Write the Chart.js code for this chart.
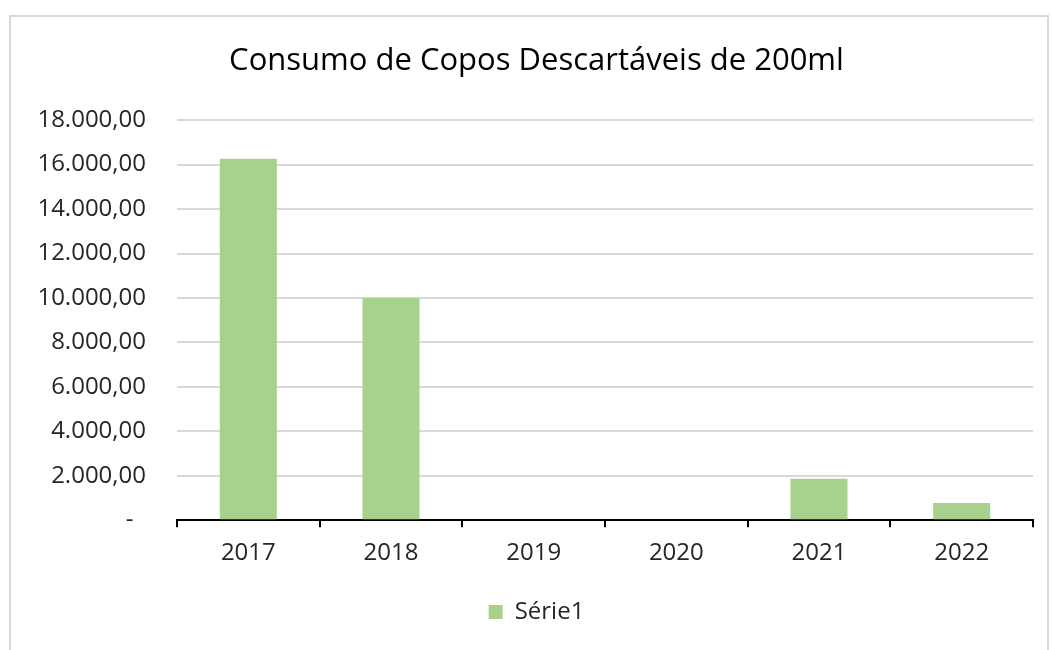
<!DOCTYPE html>
<html><head><meta charset="utf-8">
<script src="https://cdn.jsdelivr.net/npm/chart.js@4.4.0/dist/chart.umd.min.js"></script>
<style>
html,body{margin:0;padding:0;background:#fff;}
#wrap{position:relative;width:1054px;height:650px;}
#frame{position:absolute;left:9px;top:15px;width:1040px;height:640px;border:2px solid #d9d9d9;box-sizing:border-box;}
canvas{position:absolute;left:0;top:0;}
</style></head>
<body><div id="wrap"><div id="frame"></div><canvas id="c" width="1054" height="650"></canvas></div>
<script>
const categories = ["2017","2018","2019","2020","2021","2022"];
const serie1 = [16270, 10000, 0, 0, 1870, 770];
const yTicks = [0,2000,4000,6000,8000,10000,12000,14000,16000,18000];
const FONT = "'Open Sans', 'Liberation Sans', sans-serif";
function fmt(v){
  if(v===0) return "-\u00a0\u00a0";
  const s = Math.round(v).toString().replace(/\B(?=(\d{3})+(?!\d))/g,".");
  return s + ",00";
}
new Chart(document.getElementById('c'),{
  type:'bar',
  data:{labels:categories,datasets:[{label:'Série1',data:serie1,backgroundColor:'#a9d18e',borderWidth:0,barPercentage:0.4,categoryPercentage:1}]},
  options:{
    responsive:false,animation:false,
    layout:{padding:{left:40,right:21,top:43,bottom:16}},
    plugins:{
      title:{display:true,text:'Consumo de Copos Descartáveis de 200ml',color:'#000',font:{family:FONT,size:31,weight:'normal'},padding:{top:0,bottom:40}},
      legend:{position:'bottom',labels:{color:'#262626',font:{family:FONT,size:24},boxWidth:14,boxHeight:14,padding:20}},
      tooltip:{enabled:false}
    },
    scales:{
      x:{offset:true,
        grid:{display:true,offset:true,drawOnChartArea:false,drawTicks:true,tickLength:7,color:'#000',lineWidth:2},
        border:{display:true,color:'#000',width:2},
        ticks:{color:'#262626',font:{family:FONT,size:24},padding:12}
      },
      y:{min:0,max:18000,
        afterBuildTicks:(s)=>{s.ticks=yTicks.map(v=>({value:v}));},
        afterFit:(s)=>{s.width=137;},
        grid:{color:'#d9d9d9',lineWidth:2,drawTicks:false},
        border:{display:false},
        ticks:{color:'#262626',font:{family:FONT,size:24},padding:31,callback:(v)=>fmt(v)}
      }
    }
  }
});
</script></body></html>
